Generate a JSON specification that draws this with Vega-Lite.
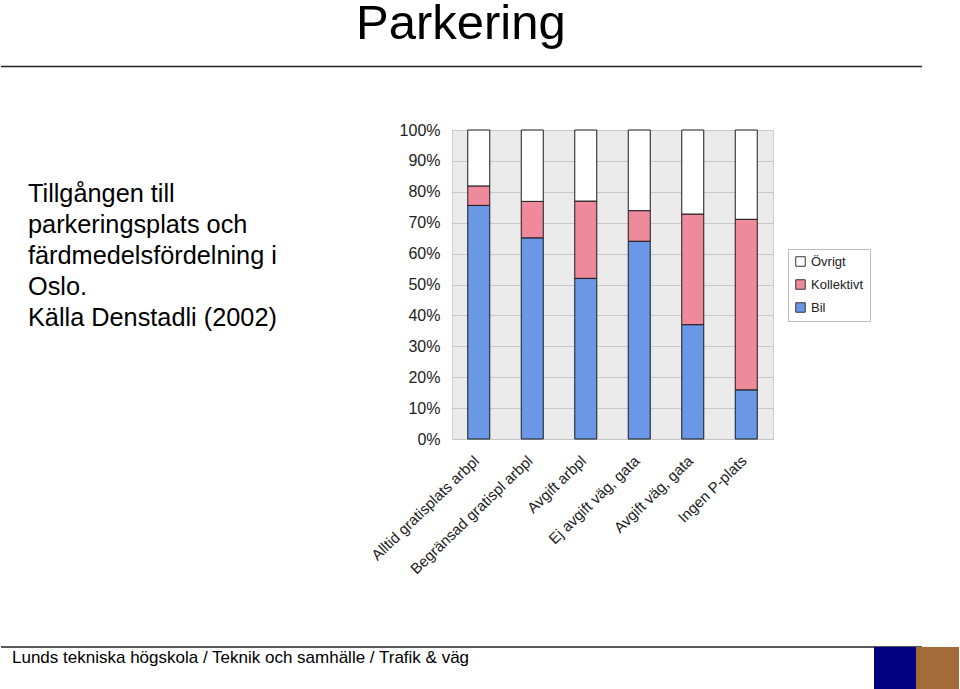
{
  "$schema": "https://vega.github.io/schema/vega-lite/v6.json",
  "padding": 0,
  "background": "white",
  "bounds": "flush",
  "spacing": 0,
  "columns": 2,
  "align": "each",
  "config": {"font": "Liberation Sans", "view": {"stroke": null}},
  "concat": [
    {
      "width": 451,
      "height": 129,
      "data": {"values": [{"t": "Parkering"}]},
      "layer": [
        {
          "mark": {"type": "text", "fontSize": 49, "align": "left", "baseline": "alphabetic", "color": "#000"},
          "encoding": {"text": {"field": "t"}, "x": {"value": 355}, "y": {"value": 38}}
        },
        {
          "mark": {"type": "rule", "color": "#222", "strokeWidth": 1.3},
          "encoding": {"x": {"value": 0}, "x2": {"value": 921}, "y": {"value": 65.5}}
        }
      ]
    },
    {
      "width": 321,
      "height": 129,
      "data": {"values": [{"t": ""}]},
      "mark": {"type": "text"},
      "encoding": {"text": {"field": "t"}}
    },
    {
      "width": 451,
      "height": 309,
      "data": {"values": [{"t": ["Tillgången till", "parkeringsplats och", "färdmedelsfördelning i", "Oslo.", "Källa Denstadli (2002)"]}]},
      "mark": {"type": "text", "fontSize": 25.3, "align": "left", "baseline": "alphabetic", "lineHeight": 31, "color": "#000"},
      "encoding": {"text": {"field": "t"}, "x": {"value": 27}, "y": {"value": 71.5}}
    },
    {
      "width": 321,
      "height": 309,
      "view": {"fill": "#ebebeb", "stroke": "#cfcfcf"},
      "data": {
        "values": [
          {"cat": "Alltid gratisplats arbpl", "typ": "Bil", "v": 75.6},
          {"cat": "Alltid gratisplats arbpl", "typ": "Kollektivt", "v": 6.3},
          {"cat": "Alltid gratisplats arbpl", "typ": "Övrigt", "v": 18.1},
          {"cat": "Begränsad gratispl arbpl", "typ": "Bil", "v": 65.1},
          {"cat": "Begränsad gratispl arbpl", "typ": "Kollektivt", "v": 11.8},
          {"cat": "Begränsad gratispl arbpl", "typ": "Övrigt", "v": 23.1},
          {"cat": "Avgift arbpl", "typ": "Bil", "v": 52.0},
          {"cat": "Avgift arbpl", "typ": "Kollektivt", "v": 25.0},
          {"cat": "Avgift arbpl", "typ": "Övrigt", "v": 23.0},
          {"cat": "Ej avgift väg, gata", "typ": "Bil", "v": 64.0},
          {"cat": "Ej avgift väg, gata", "typ": "Kollektivt", "v": 9.9},
          {"cat": "Ej avgift väg, gata", "typ": "Övrigt", "v": 26.1},
          {"cat": "Avgift väg, gata", "typ": "Bil", "v": 37.0},
          {"cat": "Avgift väg, gata", "typ": "Kollektivt", "v": 35.8},
          {"cat": "Avgift väg, gata", "typ": "Övrigt", "v": 27.2},
          {"cat": "Ingen P-plats", "typ": "Bil", "v": 15.9},
          {"cat": "Ingen P-plats", "typ": "Kollektivt", "v": 55.2},
          {"cat": "Ingen P-plats", "typ": "Övrigt", "v": 28.9}
        ]
      },
      "mark": {"type": "bar", "width": 22, "stroke": "#1a1a1a", "strokeWidth": 1},
      "encoding": {
        "x": {
          "field": "cat", "type": "nominal", "sort": null,
          "scale": {"paddingInner": 0, "paddingOuter": 0},
          "axis": {"title": null, "labelAngle": -44, "labelFontSize": 15, "tickSize": 0, "labelPadding": 14, "labelOffset": -7, "labelColor": "#222", "labelLimit": 300, "domainColor": "#c4c4c4"}
        },
        "y": {
          "field": "v", "type": "quantitative", "stack": "zero",
          "scale": {"domain": [0, 100], "nice": false},
          "axis": {"title": null, "values": [0, 10, 20, 30, 40, 50, 60, 70, 80, 90, 100], "labelExpr": "datum.value + '%'", "tickSize": 0, "labelPadding": 12, "labelFontSize": 16, "labelColor": "#222", "domain": false, "gridColor": "#c8c8c8"}
        },
        "color": {
          "field": "typ", "type": "nominal",
          "scale": {"domain": ["Övrigt", "Kollektivt", "Bil"], "range": ["#ffffff", "#ef8a9c", "#6a98e6"]},
          "legend": {"orient": "none", "legendX": 787, "legendY": 248, "title": null, "labelFontSize": 13, "labelColor": "#222", "symbolType": "square", "symbolSize": 90, "symbolStrokeColor": "#333", "symbolStrokeWidth": 1, "symbolOpacity": 1, "strokeColor": "#bdbdbd", "fillColor": "#ffffff", "padding": 6, "rowPadding": 8}
        },
        "order": {"field": "typ", "sort": "ascending"}
      }
    },
    {
      "width": 451,
      "height": 251,
      "data": {"values": [{"t": "Lunds tekniska högskola / Teknik och samhälle / Trafik & väg"}]},
      "layer": [
        {
          "mark": {"type": "rule", "color": "#222", "strokeWidth": 1.3},
          "encoding": {"x": {"value": 0}, "x2": {"value": 921}, "y": {"value": 208}}
        },
        {
          "mark": {"type": "text", "fontSize": 17, "align": "left", "baseline": "alphabetic", "color": "#000"},
          "encoding": {"text": {"field": "t"}, "x": {"value": 11}, "y": {"value": 223.5}}
        },
        {
          "mark": {"type": "rect", "color": "#000080"},
          "encoding": {"x": {"value": 873}, "x2": {"value": 915}, "y": {"value": 208}, "y2": {"value": 251}}
        },
        {
          "mark": {"type": "rect", "color": "#a36a3a"},
          "encoding": {"x": {"value": 915}, "x2": {"value": 958}, "y": {"value": 208}, "y2": {"value": 251}}
        }
      ]
    }
  ]
}
